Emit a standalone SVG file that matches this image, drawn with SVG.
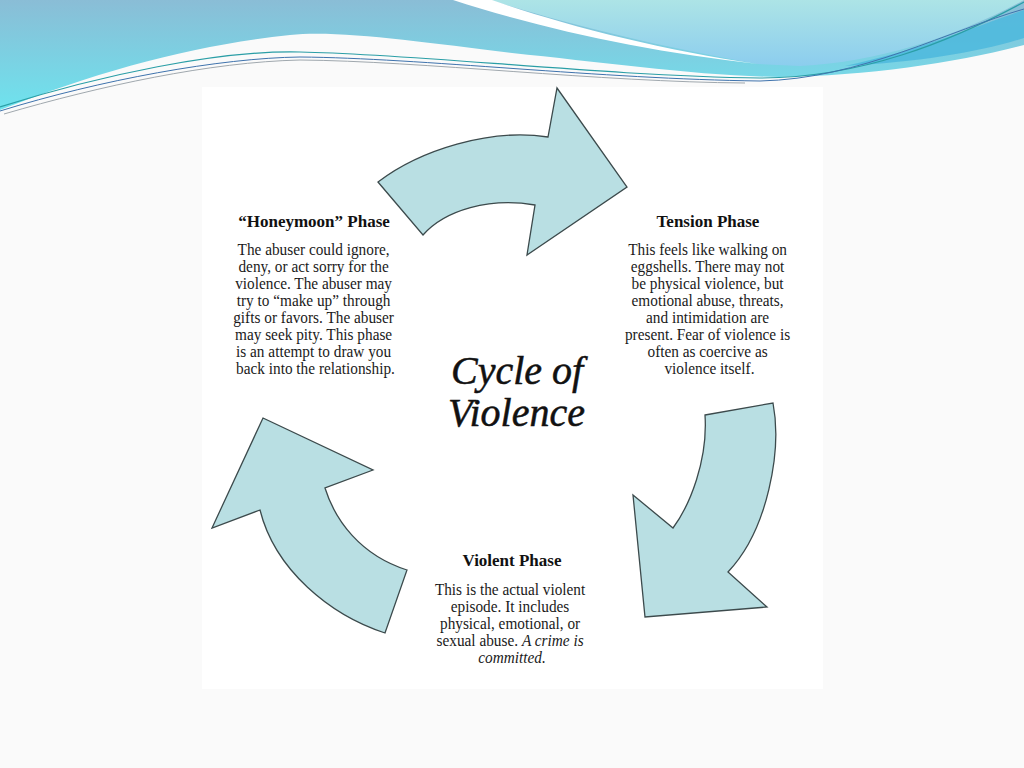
<svg xmlns="http://www.w3.org/2000/svg" width="1024" height="768" viewBox="0 0 1024 768">
<defs>
<linearGradient id="gLeft" x1="0" y1="0" x2="0" y2="1">
<stop offset="0" stop-color="#8abdd6"/>
<stop offset="1" stop-color="#6ee3ee"/>
</linearGradient>
<linearGradient id="gRight" x1="0" y1="0" x2="0" y2="1">
<stop offset="0" stop-color="#ade4e6"/>
<stop offset="1" stop-color="#8ccdee"/>
</linearGradient>
<clipPath id="clipHM"><rect x="220" y="200" width="200" height="178"/></clipPath>
<style>
.arrow{fill:#b9dfe3;stroke:#3c4a4c;stroke-width:1.3;stroke-linejoin:miter}
.title{font-family:"Liberation Serif","Times New Roman",serif;font-weight:bold;font-size:17px;fill:#111;text-anchor:middle}
.body{font-family:"Liberation Serif","Times New Roman",serif;font-size:15.3px;fill:#1a1a1a;text-anchor:middle}
.big{font-family:"Liberation Serif","Times New Roman",serif;font-style:italic;font-size:40px;fill:#111;stroke:#111;stroke-width:0.5}
</style>
</defs>
<rect width="1024" height="768" fill="#fafafa"/>
<g id="banner">
<path d="M0,0 H1024 V45 C960,62 870,76 779,77 C700,76 600,62 512,53 C420,42 340,30 290,35 C200,44 100,70 0,110 Z" fill="url(#gLeft)"/>
<path d="M490,0 H1024 V0 C960,35 880,62 800,66 L758,64 C650,45 560,22 490,0 Z" fill="url(#gRight)"/>
<path d="M845,66 C920,50 980,25 1024,10 V38 C980,52 920,62 845,66 Z" fill="#4cb9dd" opacity="0.85"/>
<path d="M453,0 H492 C560,24 660,50 758,64 C650,52 545,30 453,0 Z" fill="#ffffff"/>
<path d="M0,107 C100,75 220,50 300,52 C420,54 600,76 760,78 C860,78 950,42 1024,2" fill="none" stroke="#2a9ea6" stroke-width="1.2"/>
<path d="M0,111 C100,80 220,58 300,57 C420,58 600,79 760,81 C860,79 950,30 1024,9" fill="none" stroke="#3f73ad" stroke-width="1"/>
<path d="M4,114 C100,86 210,62 300,60 C420,61 600,82 745,83" fill="none" stroke="#a0a8ae" stroke-width="1"/>
</g>
<rect x="202" y="87" width="621" height="602" fill="#ffffff"/>
<g id="connectors">
<path class="arrow" d="M378,182 C420,150 490,128 548,137 L557,88 L627,187 L527,255 L535,205 C490,197 445,210 423,235 Z"/>
<path class="arrow" d="M705,415 L773,403 C782,450 768,530 728,572 L767,607 L645,617 L633,495 L673,528 C690,505 708,460 705,415 Z"/>
<path class="arrow" d="M263,418 L373,470 L325,488 C335,520 360,555 407,570 L385,633 C330,615 275,570 260,510 L212,528 Z"/>
</g>
<g id="title">
<text class="big" x="451" y="384">Cycle of</text>
<text class="big" x="448" y="426">Violence</text>
</g>
<g id="honeymoon" clip-path="url(#clipHM)">
<text class="title" x="314" y="227">“Honeymoon” Phase</text>
<text class="body" transform="scale(1,1.1)">
<tspan x="315.5" y="231.82">The abuser could ignore,</tspan>
<tspan x="315.5" y="247.27">deny, or act sorry for the</tspan>
<tspan x="315.5" y="262.73">violence. The abuser may</tspan>
<tspan x="315.5" y="278.18">try to “make up” through</tspan>
<tspan x="315.5" y="293.64">gifts or favors. The abuser</tspan>
<tspan x="315.5" y="309.09">may seek pity. This phase</tspan>
<tspan x="315.5" y="324.55">is an attempt to draw you</tspan>
<tspan x="315.5" y="340">back into the relationship.</tspan>
</text>
</g>
<g id="tension">
<text class="title" x="708" y="227">Tension Phase</text>
<text class="body" transform="scale(1,1.1)">
<tspan x="709.5" y="231.82">This feels like walking on</tspan>
<tspan x="709.5" y="247.27">eggshells. There may not</tspan>
<tspan x="709.5" y="262.73">be physical violence, but</tspan>
<tspan x="709.5" y="278.18">emotional abuse, threats,</tspan>
<tspan x="709.5" y="293.64">and intimidation are</tspan>
<tspan x="709.5" y="309.09">present. Fear of violence is</tspan>
<tspan x="709.5" y="324.55">often as coercive as</tspan>
<tspan x="709.5" y="340">violence itself.</tspan>
</text>
</g>
<g id="violent">
<text class="title" x="512" y="566">Violent Phase</text>
<text class="body" transform="scale(1,1.1)">
<tspan x="512" y="540.91">This is the actual violent</tspan>
<tspan x="512" y="556.36">episode. It includes</tspan>
<tspan x="512" y="571.82">physical, emotional, or</tspan>
<tspan x="512" y="587.27">sexual abuse. <tspan font-style="italic">A crime is</tspan></tspan>
<tspan x="512" y="602.73" font-style="italic">committed.</tspan>
</text>
</g>
</svg>
